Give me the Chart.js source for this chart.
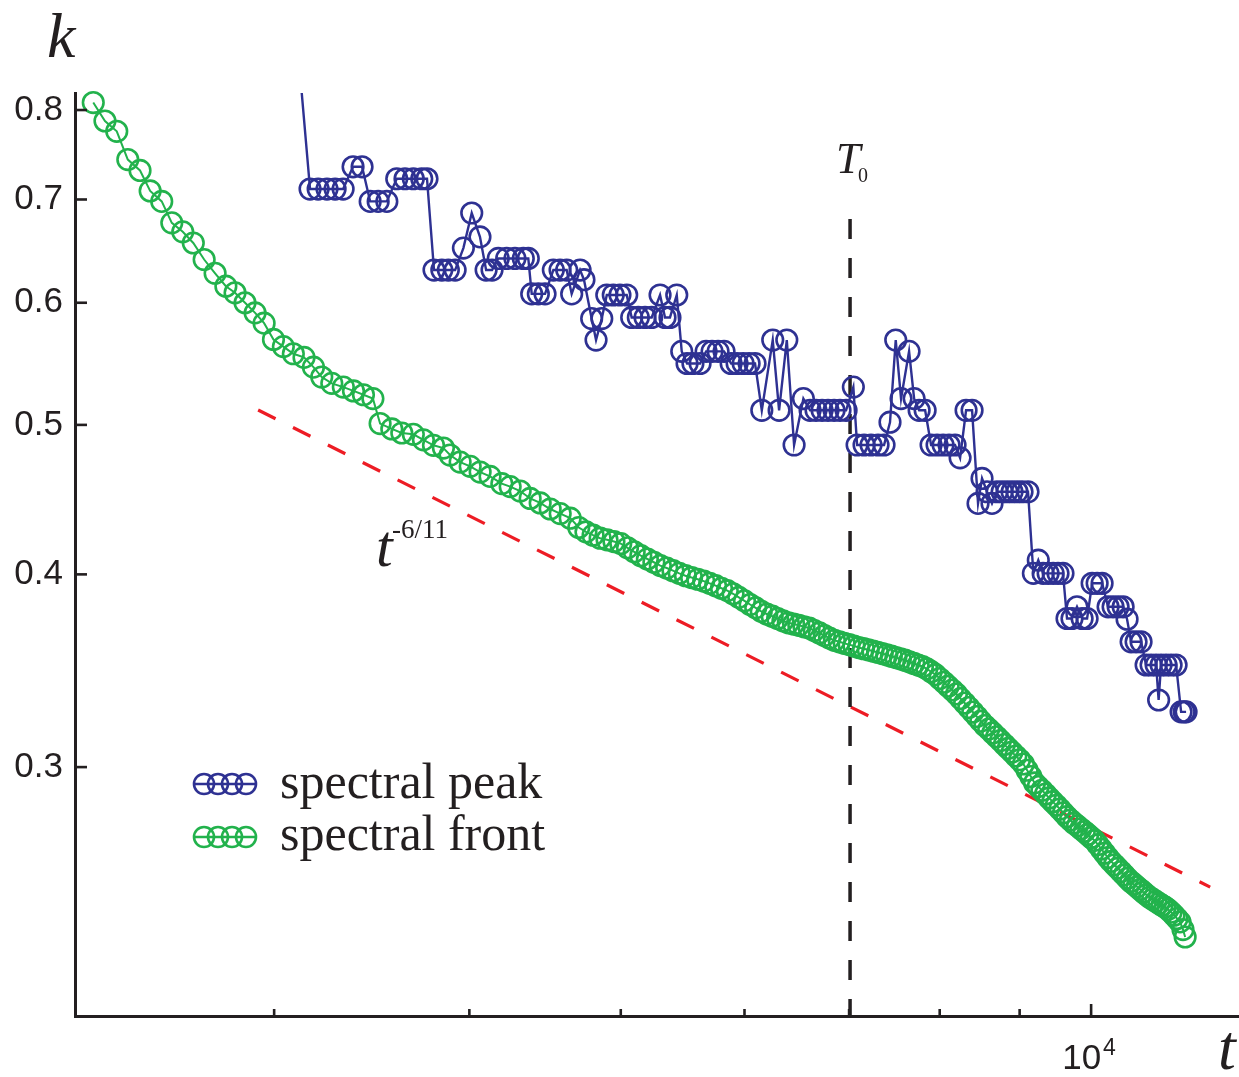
<!DOCTYPE html>
<html><head><meta charset="utf-8">
<script src="https://cdn.jsdelivr.net/npm/chart.js@4.4.1/dist/chart.umd.min.js"></script>
<style>html,body{margin:0;padding:0;background:#fff;overflow:hidden;}#wrap{width:1239px;height:1077px;position:relative;}canvas{display:block;}</style>
</head><body><div id="wrap"><canvas id="c"></canvas></div>
<script>
// ---- data (t, k) ----
const peakT = [3100,3163,3201,3243,3282,3321,3370,3415,3456,3497,
3542,3594,3638,3683,3729,3758,3797,3841,3878,3917,
3965,4014,4063,4100,4136,4174,4226,4278,4331,4363,
4385,4428,4472,4527,4572,4617,4651,4709,4736,4790,
4821,4862,4898,4945,4994,5044,5081,5131,5182,5233,
5298,5337,5376,5430,5470,5513,5561,5620,5670,5720,
5771,5822,5883,5935,5988,6041,6094,6155,6255,6314,
6386,6455,6544,6609,6667,6727,6786,6847,6907,6969,
7044,7083,7156,7230,7305,7370,7435,7498,7557,7647,
7704,7761,7830,7899,7969,8040,8111,8183,8244,8317,
8391,8465,8515,8578,8641,8705,8770,8835,8900,8966,
9032,9112,9184,9251,9317,9386,9456,9524,9594,9651,
9722,9794,9868,9941,10015,10089,10163,10253,10329,10406,
10483,10544,10607,10685,10764,10844,10924,11005,11046,11086,
11168,11251,11334,11418,11469,11502];
const peakK = [0.90,0.711,0.711,0.711,0.711,0.711,0.735,0.735,0.698,0.698,
0.698,0.722,0.722,0.722,0.722,0.722,0.630,0.630,0.630,0.630,
0.651,0.686,0.662,0.630,0.630,0.641,0.641,0.641,0.641,0.641,
0.608,0.608,0.608,0.630,0.630,0.630,0.608,0.630,0.621,0.586,
0.5675,0.586,0.607,0.607,0.607,0.607,0.587,0.587,0.587,0.587,
0.607,0.587,0.587,0.607,0.558,0.548,0.548,0.548,0.558,0.558,
0.558,0.558,0.548,0.548,0.548,0.548,0.548,0.511,0.5675,0.511,
0.5675,0.4852,0.520,0.511,0.511,0.511,0.511,0.511,0.511,0.511,
0.529,0.4852,0.4852,0.4852,0.4852,0.4852,0.502,0.5675,0.520,0.558,
0.520,0.511,0.511,0.4852,0.4852,0.4852,0.4852,0.4852,0.476,0.511,
0.511,0.4447,0.4616,0.4525,0.4447,0.4525,0.4525,0.4525,0.4525,0.4525,
0.4525,0.4525,0.4006,0.4086,0.4006,0.4006,0.4006,0.4006,0.4006,0.3745,
0.3745,0.3811,0.3745,0.3745,0.3947,0.3947,0.3947,0.3811,0.3811,0.3811,
0.3811,0.3741,0.3617,0.3617,0.3617,0.3494,0.3494,0.3494,0.3316,0.3494,
0.3494,0.3494,0.3494,0.3258,0.3258,0.3258];

const frontT = [2298,2338,2379,2418,2462,2499,2542,2580,2622,2663,
2706,2750,2794,2832,2874,2917,2956,2997,3041,3086,
3135,3179,3218,3266,3322,3372,3422,3470,3507,3568,
3621,3683,3738,3794,3850,3888,3946,4005,4064,4124,
4196,4248,4311,4375,4440,4506,4573,4641,
4700,4750,4800,4850,4900,4950,5000,5050,5100,5150,
5200,5250,5300,5350,5400,5450,5500,5550,5600,5650,
5700,5750,5800,5850,5900,5950,6000,6050,6100,6150,
6200,6250,6300,6350,6400,6450,6500,6550,6600,6650,
6700,6750,6800,6850,6900,6950,7000,7050,7100,7150,
7200,7250,7300,7350,7400,7450,7500,7550,7600,7650,
7700,7750,7800,7850,7900,7950,8000,8050,8100,8150,
8200,8250,8300,8350,8400,8450,8500,8550,8600,8650,
8700,8750,8800,8850,8900,8950,9000,9050,9100,9150,
9200,9250,9300,9350,9400,9450,9500,9550,9600,9650,
9700,9750,9800,9850,9900,9950,10000,10050,10100,10150,
10200,10250,10300,10350,10400,10450,10500,10550,10600,10650,
10700,10750,10800,10850,10900,10950,11000,11050,11100,11150,
11200,11250,11300,11350,11400,11450,11486];
const frontK = [0.809,0.787,0.775,0.743,0.731,0.709,0.698,0.676,0.667,0.656,
0.640,0.627,0.615,0.609,0.600,0.591,0.582,0.568,0.562,0.556,
0.553,0.545,0.537,0.532,0.529,0.526,0.523,0.520,0.501,0.497,
0.494,0.493,0.489,0.485,0.483,0.478,0.473,0.470,0.466,0.463,
0.458,0.456,0.453,0.448,0.445,0.441,0.438,0.435,
0.4290,0.4262,0.4241,0.4222,0.4212,0.4201,0.4188,0.4162,0.4137,0.4113,
0.4093,0.4073,0.4053,0.4038,0.4022,0.4006,0.3992,0.3981,0.3971,0.3960,
0.3947,0.3933,0.3918,0.3904,0.3886,0.3865,0.3845,0.3824,0.3805,0.3785,
0.3770,0.3758,0.3745,0.3732,0.3721,0.3714,0.3707,0.3699,0.3692,0.3678,
0.3665,0.3651,0.3637,0.3625,0.3617,0.3609,0.3602,0.3594,0.3586,0.3580,
0.3574,0.3567,0.3561,0.3554,0.3547,0.3540,0.3533,0.3526,0.3519,0.3511,
0.3502,0.3494,0.3486,0.3474,0.3459,0.3444,0.3424,0.3405,0.3385,0.3366,
0.3346,0.3323,0.3301,0.3279,0.3257,0.3235,0.3213,0.3192,0.3175,0.3157,
0.3139,0.3121,0.3103,0.3085,0.3068,0.3050,0.3033,0.3014,0.2986,0.2958,
0.2930,0.2914,0.2898,0.2882,0.2865,0.2849,0.2834,0.2818,0.2802,0.2786,
0.2772,0.2759,0.2748,0.2736,0.2725,0.2713,0.2701,0.2689,0.2672,0.2655,
0.2638,0.2621,0.2606,0.2593,0.2580,0.2567,0.2554,0.2541,0.2529,0.2519,
0.2509,0.2499,0.2489,0.2479,0.2470,0.2463,0.2455,0.2448,0.2441,0.2434,
0.2426,0.2416,0.2405,0.2393,0.2381,0.2354,0.2328];

const fitT = [2930, 11918];
const fitK = [0.5112, 0.2508];
const T0 = 7010;
const t0LineK = [0.68, 0.2069];
const yTicks = [0.3, 0.4, 0.5, 0.6, 0.7, 0.8];
const xMinorTicks = [3000, 4000, 5000, 6000, 7000, 8000, 9000];
const xMajorTicks = [10000];
const xRange = [2237, 12435];
const yRange = [0.2069, 0.8206];

// ---- styles ----
const INK = '#231f20', BLUE = '#2e3192', GREEN = '#22b24c', RED = '#ed1c24';
const SANS = '"Liberation Sans", Arial, sans-serif';
const SERIF = '"Liberation Serif", "Times New Roman", serif';

const pts = (T, K) => T.slice(0, Math.min(T.length, K.length)).map((t, i) => ({x: t, y: K[i]}));

const overlay = {
  id: 'overlay',
  afterDraw(chart) {
    const {ctx, chartArea: a, scales: {x, y}} = chart;
    ctx.save();
    ctx.strokeStyle = INK; ctx.lineWidth = 2.6; ctx.lineCap = 'butt';
    const seg = (x1, y1, x2, y2) => { ctx.beginPath(); ctx.moveTo(x1, y1); ctx.lineTo(x2, y2); ctx.stroke(); };
    yTicks.forEach(v => { const p = y.getPixelForValue(v); seg(a.left, p, a.left + 12, p); });
    xMinorTicks.forEach(v => { const p = x.getPixelForValue(v); seg(p, a.bottom, p, a.bottom - 7); });
    xMajorTicks.forEach(v => { const p = x.getPixelForValue(v); seg(p, a.bottom, p, a.bottom - 12); });

    ctx.fillStyle = INK; ctx.textBaseline = 'alphabetic';
    // x tick label 10^4
    xMajorTicks.forEach(v => {
      const p = x.getPixelForValue(v);
      ctx.font = '35px ' + SANS; ctx.textAlign = 'right';
      ctx.fillText('10', p + 10, 1069);
      ctx.font = '23px ' + SANS; ctx.textAlign = 'left';
      ctx.fillText('4', p + 12, 1055);
    });
    // axis titles
    ctx.textAlign = 'left';
    ctx.font = 'italic 64px ' + SERIF;
    ctx.fillText('k', 47, 57);
    ctx.fillText('t', 1218, 1069);
    // T0 label
    const px0 = x.getPixelForValue(T0);
    ctx.font = 'italic 44px ' + SERIF;
    ctx.fillText('T', px0 - 14, 173);
    ctx.font = '20px ' + SERIF;
    ctx.fillText('0', px0 + 8, 182);
    // t^-6/11 label
    ctx.font = 'italic 60px ' + SERIF;
    ctx.fillText('t', 376, 566);
    ctx.font = '27px ' + SERIF;
    ctx.fillText('-6/11', 392, 538);

    // legend
    const rows = [[BLUE, 'spectral peak', 784, 798], [GREEN, 'spectral front', 837, 850]];
    rows.forEach(([c, label, ly, by]) => {
      ctx.strokeStyle = c; ctx.lineWidth = 2.4;
      seg(193, ly, 257, ly);
      ctx.lineWidth = 2.6;
      [204, 218, 232, 246].forEach(cx => { ctx.beginPath(); ctx.arc(cx, ly, 10, 0, Math.PI * 2); ctx.stroke(); });
      ctx.fillStyle = INK; ctx.font = '50px ' + SERIF; ctx.textAlign = 'left';
      ctx.fillText(label, 280, by);
    });
    ctx.restore();
  }
};

new Chart(document.getElementById('c'), {
  type: 'scatter',
  data: {
    datasets: [
      { label: 'spectral peak', data: pts(peakT, peakK), showLine: true,
        borderColor: BLUE, borderWidth: 2.4, pointRadius: 10.3, pointBorderWidth: 2.6,
        pointBorderColor: BLUE, pointBackgroundColor: 'rgba(0,0,0,0)',
        clip: {left: false, top: 0, right: false, bottom: false} },
      { label: 'spectral front', data: pts(frontT, frontK), showLine: true,
        borderColor: GREEN, borderWidth: 2, pointRadius: 10.3, pointBorderWidth: 2.6,
        pointBorderColor: GREEN, pointBackgroundColor: 'rgba(0,0,0,0)', clip: false },
      { label: 'T0', data: t0LineK.map(k => ({x: T0, y: k})), showLine: true,
        borderColor: INK, borderWidth: 3.5, borderDash: [20, 19], pointRadius: 0 },
      { label: 'fit', data: pts(fitT, fitK), showLine: true,
        borderColor: RED, borderWidth: 3.2, borderDash: [19.5, 19.5], pointRadius: 0 }
    ]
  },
  options: {
    responsive: true, maintainAspectRatio: false, animation: false,
    layout: {autoPadding: false, padding: {top: 93, left: 0, right: 0, bottom: 0}},
    plugins: {legend: {display: false}, tooltip: {enabled: false}},
    events: [],
    scales: {
      x: { type: 'logarithmic', min: xRange[0], max: xRange[1],
        grid: {display: false, drawTicks: false},
        border: {display: true, width: 3, color: INK},
        ticks: {display: false},
        afterFit(s) { s.height = 61; } },
      y: { type: 'logarithmic', min: yRange[0], max: yRange[1],
        grid: {display: false, drawTicks: false},
        border: {display: true, width: 3, color: INK},
        ticks: {color: INK, padding: 12, font: {family: SANS, size: 35},
          callback: v => Number(v).toFixed(1)},
        afterBuildTicks(s) { s.ticks = yTicks.map(v => ({value: v})); },
        afterFit(s) { s.width = 75; } }
    }
  },
  plugins: [overlay]
});
</script>
</body></html>
